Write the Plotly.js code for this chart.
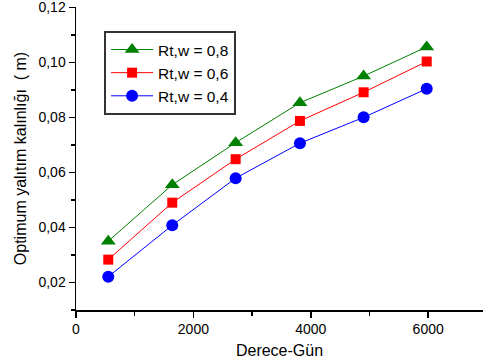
<!DOCTYPE html>
<html><head><meta charset="utf-8">
<script src="https://cdn.plot.ly/plotly-3.0.1.min.js"></script>
<style>html,body{margin:0;padding:0;background:#fff;}#c{width:483px;height:362px;}</style>
</head><body><div id="c"></div>
<script>
const xDays = [550, 1640, 2720, 3815, 4900, 5975];
const y08 = [0.0350, 0.0555, 0.0708, 0.0853, 0.0950, 0.1056];
const y06 = [0.0283, 0.0490, 0.0648, 0.0787, 0.0891, 0.1003];
const y04 = [0.0221, 0.0408, 0.0579, 0.0706, 0.0800, 0.0904];
const names = ['Rt,w = 0,8', 'Rt,w = 0,6', 'Rt,w = 0,4'];
const yTicks = [0.02, 0.04, 0.06, 0.08, 0.10, 0.12];
const yTickText = ['0,02', '0,04', '0,06', '0,08', '0,10', '0,12'];
const xTicks = [0, 2000, 4000, 6000];

const traces = [
  {x: xDays, y: y08, name: names[0], mode: 'lines+markers',
   line: {color: '#008000', width: 1}, marker: {symbol: 'triangle-up', size: 13, color: '#008000'}},
  {x: xDays, y: y06, name: names[1], mode: 'lines+markers',
   line: {color: '#ff0000', width: 1}, marker: {symbol: 'square', size: 10, color: '#ff0000'}},
  {x: xDays, y: y04, name: names[2], mode: 'lines+markers',
   line: {color: '#0000ff', width: 1}, marker: {symbol: 'circle', size: 12, color: '#0000ff'}}
];

const layout = {
  width: 483, height: 362,
  margin: {l: 76, r: 0, t: 7, b: 52},
  paper_bgcolor: '#fff', plot_bgcolor: '#fff',
  font: {family: 'Liberation Sans, Arial, sans-serif', color: '#000'},
  showlegend: true,
  legend: {x: 0.069, y: 0.921, xanchor: 'left', yanchor: 'top',
    bordercolor: '#333', borderwidth: 2, bgcolor: '#fff',
    font: {size: 15.5, color: '#000'}, tracegroupgap: 0, itemwidth: 42},
  xaxis: {range: [0, 6934], tickvals: xTicks, ticktext: xTicks.map(String),
    showgrid: false, zeroline: false, showline: true, linecolor: '#000', linewidth: 1.5,
    ticks: 'outside', ticklen: 6, tickwidth: 1.5, tickcolor: '#000',
    tickfont: {size: 14}, ticklabeloverflow: 'allow',
    minor: {dtick: 1000, tick0: 0, ticks: 'outside', ticklen: 4, tickwidth: 1.5, tickcolor: '#000', showgrid: false},
    title: {text: 'Derece-Gün', font: {size: 16}, standoff: 8}},
  yaxis: {range: [0.01, 0.1201], tickvals: yTicks, ticktext: yTickText,
    showgrid: false, zeroline: false, showline: true, linecolor: '#000', linewidth: 1.5,
    ticks: 'outside', ticklen: 6, tickwidth: 1.5, tickcolor: '#000',
    tickfont: {size: 14}, ticklabeloverflow: 'allow',
    minor: {dtick: 0.01, tick0: 0.01, ticks: 'outside', ticklen: 4, tickwidth: 1.5, tickcolor: '#000', showgrid: false},
    title: {text: 'Optimum yalıtım kalınlığı  ( m)', font: {size: 16}, standoff: 8}}
};

Plotly.newPlot('c', traces, layout, {displayModeBar: false, staticPlot: true});
</script></body></html>
